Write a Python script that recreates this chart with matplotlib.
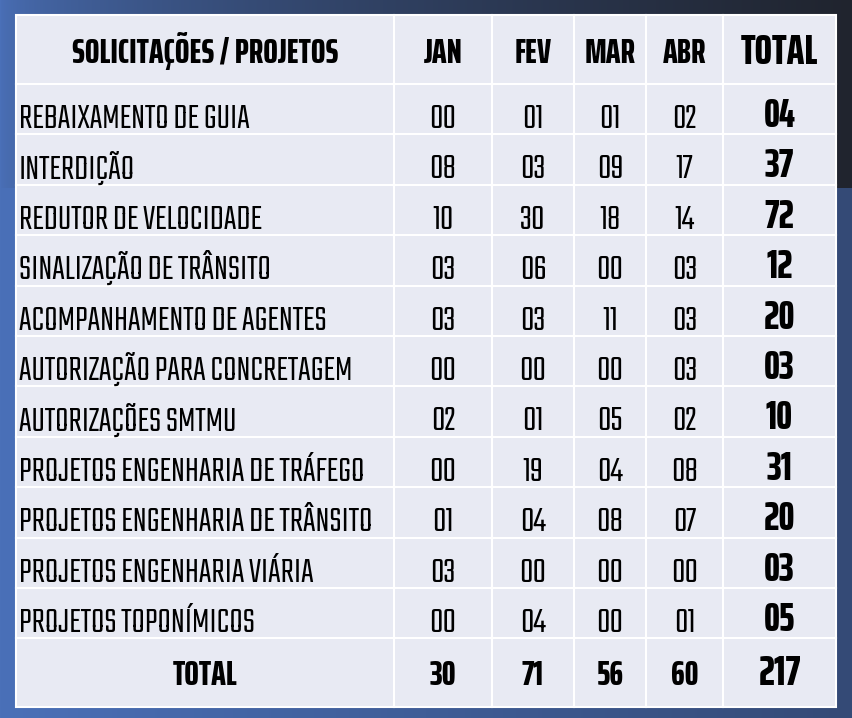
import matplotlib
matplotlib.use("Agg")
import matplotlib.pyplot as plt
import numpy as np
from matplotlib.patches import Rectangle

FONT = "Teko"
FONT_BOLD = "Saira ExtraCondensed"

categories = [
    "REBAIXAMENTO DE GUIA",
    "INTERDIÇÃO",
    "REDUTOR DE VELOCIDADE",
    "SINALIZAÇÃO DE TRÂNSITO",
    "ACOMPANHAMENTO DE AGENTES",
    "AUTORIZAÇÃO PARA CONCRETAGEM",
    "AUTORIZAÇÕES SMTMU",
    "PROJETOS ENGENHARIA DE TRÁFEGO",
    "PROJETOS ENGENHARIA DE TRÂNSITO",
    "PROJETOS ENGENHARIA VIÁRIA",
    "PROJETOS TOPONÍMICOS",
]
months = ["JAN", "FEV", "MAR", "ABR"]
jan = [0, 8, 10, 3, 3, 0, 2, 0, 1, 3, 0]
fev = [1, 3, 30, 6, 3, 0, 1, 19, 4, 0, 4]
mar = [1, 9, 18, 0, 11, 0, 5, 4, 8, 0, 0]
abr = [2, 17, 14, 3, 3, 3, 2, 8, 7, 0, 1]
row_totals = [4, 37, 72, 12, 20, 3, 10, 31, 20, 3, 5]
month_totals = [30, 71, 56, 60]
grand_total = 217

W, H = 852, 718
fig = plt.figure(figsize=(W / 100, H / 100), dpi=100)
ax = fig.add_axes([0, 0, 1, 1])
ax.set_xlim(0, W)
ax.set_ylim(H, 0)
ax.axis("off")

# background: blue gradient, darker band across the top
xs = np.linspace(0, 1, W)[None, :, None]
ys = np.arange(H)[:, None, None]
left = np.array([74, 112, 184]) / 255
right_low = np.array([52, 74, 118]) / 255
right_top = np.array([32, 36, 46]) / 255
low = left * (1 - xs) + right_low * xs
top = left * (1 - xs ** 0.6) + right_top * xs ** 0.6
bg = np.where(ys < 188, top, low)
ax.imshow(np.clip(bg, 0, 1), extent=(0, W, H, 0), aspect="auto", zorder=0)

# table geometry (pixels)
col_edges = [16, 394, 492, 574, 646, 723, 836]
header_h, row_h, total_h = 69, 50.4, 69
y0 = 15
row_edges = [y0, y0 + header_h]
for _ in categories:
    row_edges.append(row_edges[-1] + row_h)
row_edges.append(row_edges[-1] + total_h)

cell_color = "#e8eaf3"
for i in range(len(row_edges) - 1):
    for j in range(len(col_edges) - 1):
        ax.add_patch(Rectangle((col_edges[j], row_edges[i]),
                               col_edges[j + 1] - col_edges[j],
                               row_edges[i + 1] - row_edges[i],
                               facecolor=cell_color, edgecolor="white",
                               linewidth=1.5, zorder=1))

centers = [(col_edges[j] + col_edges[j + 1]) / 2 for j in range(len(col_edges) - 1)]


def cell_text(x, y, s, size, bold=False, ha="center"):
    if bold:
        ax.text(x, y, s, ha=ha, va="baseline", fontsize=size, family=FONT_BOLD,
                fontweight=800, color="black", zorder=3)
    else:
        ax.text(x, y, s, ha=ha, va="baseline", fontsize=size, family=FONT,
                color="black", zorder=3)


# header
hy = row_edges[0] + 48
cell_text(centers[0], hy, "SOLICITAÇÕES / PROJETOS", 25, bold=True)
for j, m in enumerate(months):
    cell_text(centers[j + 1], hy, m, 25, bold=True)
cell_text(centers[5], hy + 1, "TOTAL", 30, bold=True)

# body rows
series = [jan, fev, mar, abr]
for i, cat in enumerate(categories):
    cy = row_edges[i + 1] + 44
    cell_text(19, cy, cat, 26.5, ha="left")
    for j, vals in enumerate(series):
        cell_text(centers[j + 1], cy, f"{vals[i]:02d}", 27)
    cell_text(centers[5], cy - 1, f"{row_totals[i]:02d}", 29, bold=True)

# total row
ty = row_edges[-2] + 47
cell_text(centers[0], ty, "TOTAL", 25, bold=True)
for j, v in enumerate(month_totals):
    cell_text(centers[j + 1], ty, str(v), 25, bold=True)
cell_text(centers[5], ty, str(grand_total), 30, bold=True)

fig.savefig("out.png", dpi=100)
plt.close(fig)
